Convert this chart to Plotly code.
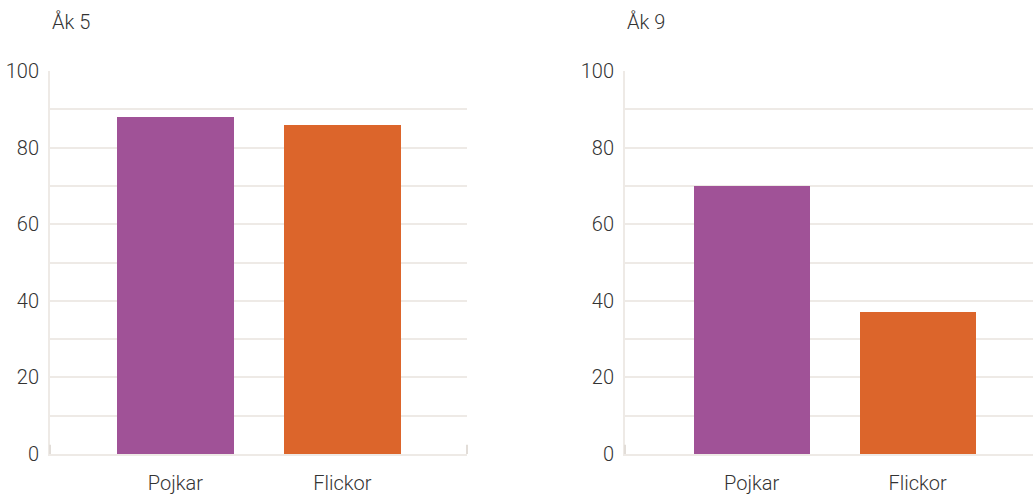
import plotly.graph_objects as go

categories = ["Pojkar", "Flickor"]
ak5_values = [88, 86]
ak9_values = [70, 37]
bar_colors = ["#a05297", "#dc652b"]
y_ticks = [0, 20, 40, 60, 80, 100]
panel_titles = ["Åk 5", "Åk 9"]

W, H = 1033, 495
grid_col = "#eeeae6"
text_col = "#333333"
font_family = "Roboto"
font_weight = 300

fig = go.Figure()
fig.add_trace(go.Bar(x=[0, 1], y=ak5_values, marker_color=bar_colors, width=0.7,
                     xaxis="x", yaxis="y", showlegend=False, marker_line_width=0))
fig.add_trace(go.Bar(x=[0, 1], y=ak9_values, marker_color=bar_colors, width=0.7,
                     xaxis="x2", yaxis="y2", showlegend=False, marker_line_width=0))

ybot = (H - 454) / H
ytop = (H - 71) / H
d1 = [50 / W, 467 / W]
d2 = [625 / W, 1.0]

def tfont(size=20):
    return dict(family=font_family, size=size, color=text_col, weight=font_weight)

def xaxis(domain, rng, anchor):
    return dict(domain=domain, range=rng, tickvals=[0, 1], ticktext=categories,
                showgrid=False, zeroline=False, showline=True, linecolor=grid_col,
                linewidth=2, ticks="", tickfont=tfont(), automargin=False,
                ticklabelstandoff=10, anchor=anchor, fixedrange=True)

def yaxis(anchor):
    return dict(domain=[ybot, ytop], range=[0, 100], tickvals=y_ticks,
                showgrid=True, gridcolor=grid_col, gridwidth=2,
                minor=dict(dtick=10, tick0=0, showgrid=True, gridcolor=grid_col, gridwidth=2),
                zeroline=False, showline=True, linecolor=grid_col, linewidth=2, ticks="",
                tickfont=tfont(), automargin=False,
                ticklabelstandoff=5, anchor=anchor, fixedrange=True)

fig.update_layout(
    width=W, height=H, margin=dict(l=0, r=0, t=0, b=0, autoexpand=False),
    plot_bgcolor="white", paper_bgcolor="white",
    xaxis=xaxis(d1, [-0.751, 1.746], "y"),
    yaxis=yaxis("x"),
    xaxis2=xaxis(d2, [-0.763, 1.695], "y2"),
    yaxis2=yaxis("x2"),
    bargap=0,
)

for i, (t, d) in enumerate(zip(panel_titles, [d1, d2])):
    fig.add_annotation(text=t, xref="paper", yref="paper", x=d[0], y=(H - 22) / H,
                       xanchor="left", yanchor="middle", showarrow=False,
                       font=tfont(20))

# small end ticks on the baseline
for xr, yr, ends in [("x domain", "y domain", [0, 1]), ("x2 domain", "y2 domain", [0])]:
    for e in ends:
        fig.add_shape(type="line", xref=xr, yref=yr, x0=e, x1=e, y0=0, y1=0.024,
                      line=dict(color="#e2ddd8", width=2))

fig.write_html("out.html")
